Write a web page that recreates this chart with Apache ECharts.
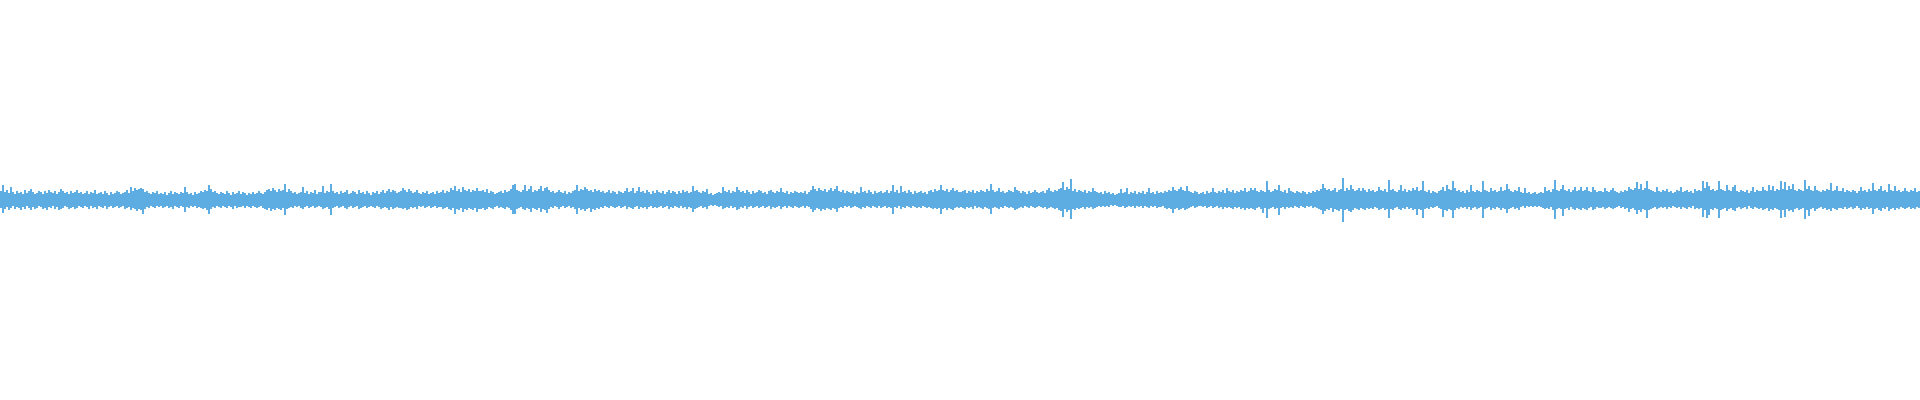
<!DOCTYPE html>
<html>
<head>
<meta charset="utf-8">
<script src="https://cdn.jsdelivr.net/npm/echarts@6/dist/echarts.min.js"></script>
<style>html,body{margin:0;padding:0;background:#fff;}#c{width:1920px;height:400px;}</style>
</head>
<body>
<div id="c"></div>
<script>
// upper peaks per 2px column (960 columns)
const peaks = [
9,15,8,10,7,13,8,6,9,7,8,6,10,7,9,11,8,6,7,9,8,6,9,7,10,8,7,9,6,8,11,9,7,8,6,9,7,8,10,7,
8,6,7,9,6,8,7,10,6,7,8,6,9,7,5,8,6,7,9,8,6,7,8,10,7,13,9,12,10,11,12,11,8,9,7,6,8,7,9,6,
7,6,8,5,7,9,6,8,7,6,8,7,13,8,6,7,5,8,6,7,9,8,10,9,15,11,8,9,7,6,8,7,6,9,7,5,8,6,7,9,
6,8,7,5,7,6,8,6,7,9,7,6,8,10,11,9,12,10,8,11,9,10,16,8,11,9,7,8,6,7,8,13,7,9,6,8,7,10,6,8,
8,14,7,9,8,16,9,7,8,6,9,7,8,10,6,7,9,8,6,10,7,8,6,9,7,5,8,7,9,6,8,10,7,9,11,8,10,9,7,8,
9,12,10,8,11,9,7,8,10,7,6,8,7,9,6,7,8,6,9,7,8,10,7,9,8,12,10,14,9,11,8,13,10,9,11,8,10,9,12,9,
9,10,8,11,7,9,8,6,7,8,9,7,10,8,9,11,15,16,10,9,8,10,15,9,11,14,8,10,9,11,14,9,12,13,10,8,9,7,8,10,
8,7,9,6,8,7,9,10,15,9,11,10,13,11,9,10,8,11,9,10,8,9,7,8,10,7,9,8,6,9,8,7,9,12,8,9,12,7,9,13,
8,9,7,10,8,6,9,7,10,8,7,9,6,8,10,7,9,8,6,9,7,10,8,9,7,8,14,9,10,8,7,9,8,11,6,7,5,6,7,8,
7,13,9,8,10,7,9,8,13,10,8,9,7,10,8,6,9,7,8,10,9,7,8,6,9,10,8,7,9,8,12,8,7,9,6,8,7,9,8,7,
8,7,9,6,8,10,14,11,9,12,10,9,11,8,10,12,9,11,14,9,8,10,7,9,8,7,9,6,8,7,13,8,9,7,10,8,6,9,7,8,
9,7,8,10,7,9,15,8,10,7,14,8,9,7,10,8,6,9,7,8,9,7,8,6,9,10,8,11,9,10,15,10,9,11,8,10,12,9,10,8,
8,9,10,7,9,8,10,7,9,8,10,9,8,11,9,16,10,8,9,12,8,9,7,8,10,9,8,13,10,9,7,9,8,6,9,7,8,10,8,7,
8,9,7,10,12,9,8,10,9,11,12,18,10,13,11,21,9,11,8,10,9,8,10,7,9,8,12,9,8,7,8,6,9,7,8,6,7,5,6,7,
11,7,8,12,6,8,7,9,6,8,7,9,6,8,12,7,8,6,9,7,8,7,9,8,10,9,13,10,9,11,13,10,9,14,9,8,7,9,8,6,
7,8,6,9,7,8,12,8,7,9,8,10,7,12,9,8,10,7,9,8,10,9,12,8,9,12,10,12,9,8,10,9,8,19,10,8,9,11,10,15,
9,8,10,7,12,9,8,7,9,8,7,9,8,6,8,7,9,8,10,9,11,16,12,10,11,9,10,12,8,10,11,22,9,12,10,15,11,9,10,12,
9,12,10,8,11,9,10,8,9,13,10,9,11,8,20,10,11,9,8,10,15,9,11,8,10,9,12,10,13,9,10,19,9,8,10,7,9,8,7,9,
10,13,9,15,11,10,19,12,9,10,8,9,7,10,8,15,9,8,10,9,8,19,10,9,8,12,9,10,8,9,13,9,10,16,11,9,8,10,9,13,
8,7,12,7,8,6,7,8,6,7,8,7,13,9,10,8,11,20,10,9,11,15,10,9,11,8,10,13,9,10,13,9,10,13,9,8,13,10,8,9,
9,8,12,9,8,10,12,9,8,7,9,8,10,9,13,11,10,12,18,11,16,10,12,19,11,10,9,8,13,9,8,10,9,11,8,9,7,8,10,9,
13,8,9,10,8,9,7,11,9,10,9,19,12,18,14,10,11,9,10,19,11,10,9,15,10,9,13,15,9,8,10,9,8,10,7,9,13,8,10,9,
9,13,10,9,15,10,14,9,11,10,19,11,18,10,14,11,16,10,9,11,10,9,20,11,14,10,9,14,10,9,8,10,9,11,10,17,9,10,14,9,
9,12,8,10,9,8,10,9,7,9,13,9,10,8,11,9,17,10,9,11,14,9,10,8,16,10,9,14,9,10,8,9,12,9,8,10,9,12,8,9
];
// lower troughs per 2px column (960 columns)
const troughs = [
-8,-13,-9,-7,-10,-8,-6,-9,-7,-8,-10,-7,-9,-6,-8,-10,-7,-9,-8,-6,-7,-9,-8,-10,-7,-8,-6,-9,-7,-10,-9,-8,-6,-7,-9,-8,-7,-9,-8,-6,
-7,-8,-6,-7,-9,-6,-8,-7,-9,-6,-7,-8,-6,-9,-7,-6,-8,-7,-6,-8,-7,-6,-9,-8,-7,-10,-8,-9,-11,-9,-10,-14,-9,-7,-8,-6,-7,-8,-6,-7,
-6,-8,-7,-6,-8,-7,-9,-6,-7,-8,-6,-7,-12,-7,-8,-6,-7,-6,-8,-7,-8,-9,-8,-10,-14,-9,-7,-8,-6,-7,-8,-6,-7,-8,-6,-7,-9,-6,-8,-7,
-7,-6,-8,-6,-7,-8,-6,-7,-8,-7,-6,-8,-9,-10,-8,-11,-9,-10,-8,-9,-10,-8,-15,-9,-8,-7,-8,-6,-7,-6,-8,-9,-7,-6,-8,-7,-6,-8,-7,-6,
-7,-9,-8,-7,-9,-15,-8,-7,-6,-8,-7,-6,-8,-9,-7,-6,-8,-7,-6,-9,-8,-7,-6,-8,-7,-6,-7,-8,-6,-7,-9,-8,-7,-8,-10,-7,-9,-8,-7,-8,
-8,-9,-8,-10,-9,-7,-8,-7,-9,-6,-7,-6,-8,-7,-6,-8,-7,-6,-8,-7,-7,-9,-8,-7,-9,-10,-8,-14,-9,-10,-8,-12,-9,-10,-8,-9,-10,-8,-12,-9,
-9,-8,-10,-9,-7,-8,-9,-7,-6,-8,-7,-8,-9,-7,-8,-10,-14,-14,-9,-8,-7,-9,-10,-8,-9,-12,-8,-9,-10,-8,-12,-9,-10,-13,-9,-7,-8,-6,-7,-9,
-7,-6,-8,-7,-6,-8,-7,-9,-14,-8,-10,-9,-11,-9,-8,-12,-9,-10,-8,-9,-7,-8,-6,-7,-8,-6,-7,-8,-7,-6,-8,-7,-6,-9,-7,-8,-9,-7,-6,-9,
-7,-8,-7,-9,-7,-6,-8,-7,-8,-7,-6,-8,-7,-6,-9,-7,-8,-6,-7,-8,-6,-8,-7,-9,-7,-8,-12,-9,-8,-7,-6,-8,-7,-9,-6,-5,-6,-5,-6,-7,
-6,-9,-8,-7,-8,-6,-8,-7,-10,-9,-7,-8,-6,-9,-7,-6,-8,-7,-6,-8,-7,-6,-8,-7,-6,-9,-7,-8,-7,-6,-9,-7,-6,-8,-6,-7,-8,-6,-7,-8,
-7,-6,-8,-6,-7,-9,-12,-10,-8,-9,-11,-9,-10,-8,-9,-10,-8,-9,-12,-8,-7,-8,-6,-7,-6,-8,-7,-6,-7,-8,-9,-7,-8,-6,-7,-8,-6,-7,-8,-6,
-8,-7,-6,-8,-7,-8,-14,-7,-8,-6,-9,-7,-8,-6,-7,-8,-6,-7,-8,-7,-8,-6,-7,-8,-7,-8,-9,-8,-9,-8,-14,-9,-8,-10,-8,-9,-10,-8,-7,-8,
-7,-8,-9,-7,-8,-7,-9,-6,-8,-7,-8,-9,-7,-8,-9,-14,-8,-7,-8,-9,-7,-8,-6,-7,-8,-7,-8,-10,-9,-8,-7,-8,-6,-7,-8,-6,-7,-8,-7,-6,
-7,-8,-7,-9,-8,-7,-8,-9,-8,-10,-11,-17,-9,-12,-10,-19,-9,-10,-8,-9,-8,-7,-9,-7,-8,-7,-9,-8,-7,-6,-7,-6,-7,-6,-7,-5,-6,-5,-6,-7,
-7,-6,-8,-7,-6,-7,-6,-8,-6,-7,-6,-8,-6,-7,-8,-6,-7,-6,-8,-7,-7,-6,-8,-9,-8,-9,-13,-9,-8,-10,-9,-8,-10,-9,-8,-7,-6,-8,-7,-6,
-6,-7,-6,-8,-7,-6,-8,-7,-6,-8,-7,-9,-7,-8,-7,-8,-9,-7,-8,-7,-9,-8,-10,-8,-9,-8,-9,-10,-8,-7,-9,-13,-8,-18,-9,-8,-7,-9,-8,-15,
-8,-7,-9,-7,-8,-7,-8,-6,-7,-8,-6,-7,-8,-6,-7,-6,-8,-7,-8,-9,-10,-14,-11,-9,-10,-8,-12,-9,-10,-11,-9,-22,-10,-9,-11,-12,-10,-8,-9,-10,
-8,-9,-10,-8,-9,-8,-9,-7,-8,-10,-9,-8,-10,-9,-18,-9,-10,-8,-7,-9,-10,-8,-9,-7,-9,-8,-10,-9,-15,-9,-10,-18,-9,-8,-9,-7,-8,-7,-6,-8,
-9,-17,-10,-11,-9,-10,-18,-10,-8,-9,-7,-8,-7,-9,-7,-10,-8,-7,-9,-8,-7,-18,-9,-8,-7,-10,-8,-9,-7,-8,-10,-8,-9,-13,-9,-8,-7,-9,-8,-10,
-7,-6,-8,-6,-7,-6,-7,-6,-7,-6,-7,-8,-9,-8,-9,-7,-10,-19,-9,-8,-9,-16,-9,-8,-10,-7,-9,-10,-8,-9,-10,-8,-9,-10,-8,-7,-10,-9,-7,-8,
-8,-7,-9,-8,-7,-8,-9,-8,-7,-6,-8,-7,-9,-8,-12,-9,-8,-10,-14,-10,-12,-9,-10,-18,-10,-9,-8,-7,-9,-8,-7,-8,-7,-9,-7,-8,-6,-7,-8,-7,
-9,-7,-8,-9,-7,-8,-6,-9,-8,-9,-8,-17,-10,-18,-15,-9,-10,-8,-9,-18,-10,-9,-8,-11,-9,-8,-10,-11,-8,-7,-9,-8,-7,-9,-6,-8,-9,-7,-8,-9,
-8,-10,-9,-8,-11,-9,-10,-8,-9,-10,-18,-10,-17,-9,-11,-10,-12,-9,-8,-10,-9,-8,-19,-10,-16,-9,-8,-11,-9,-8,-7,-9,-8,-10,-9,-11,-8,-9,-10,-8,
-8,-9,-7,-9,-8,-7,-9,-8,-6,-8,-10,-8,-9,-7,-9,-8,-14,-9,-8,-10,-11,-8,-9,-7,-11,-9,-8,-10,-8,-9,-7,-8,-9,-8,-7,-9,-8,-9,-7,-8
];
const yMin = -200, yMax = 200;

const chart = echarts.init(document.getElementById('c'), null, {renderer: 'canvas'});
const color = '#5dade2';
chart.setOption({
  animation: false,
  backgroundColor: '#ffffff',
  grid: {left: 0, right: 0, top: 0, bottom: 0, containLabel: false},
  xAxis: {type: 'category', show: false, boundaryGap: true},
  yAxis: {type: 'value', show: false, min: yMin, max: yMax, splitLine: {show: false}},
  series: [
    {type: 'bar', data: peaks, barCategoryGap: '0%', barGap: '-100%', itemStyle: {color: color}, silent: true, large: false},
    {type: 'bar', data: troughs, barCategoryGap: '0%', barGap: '-100%', itemStyle: {color: color}, silent: true, large: false}
  ]
});
</script>
</body>
</html>
